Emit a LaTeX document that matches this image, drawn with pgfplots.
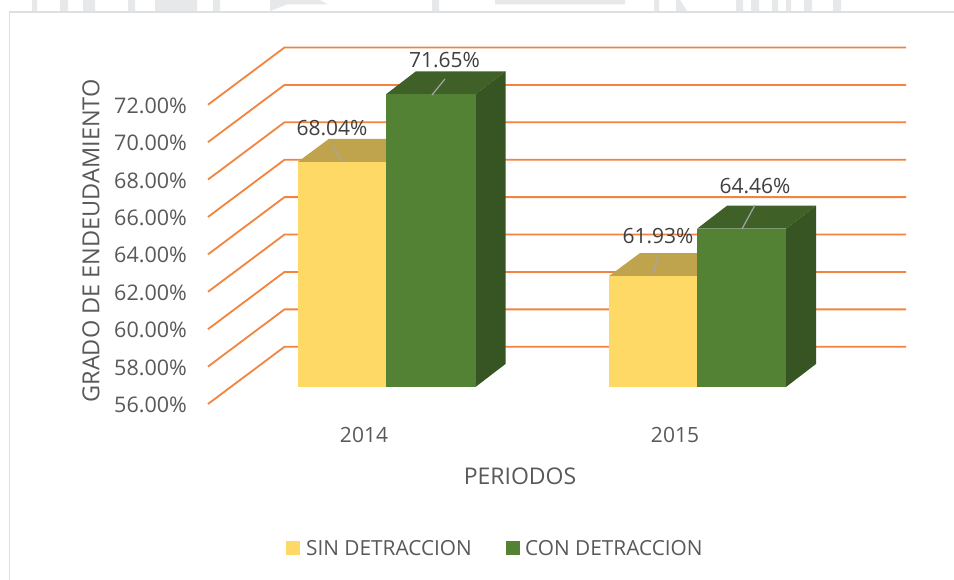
\documentclass[border=0pt]{standalone}
\usepackage{fontspec}
\setmainfont{Open Sans}
\usepackage{pgfplots}
\pgfplotsset{compat=1.18}
\definecolor{gridc}{HTML}{F2843F}
\definecolor{yfront}{HTML}{FFD966}
\definecolor{ytop}{HTML}{BFA44D}
\definecolor{gfront}{HTML}{548235}
\definecolor{gtop}{HTML}{3F6127}
\definecolor{gside}{HTML}{375522}
\definecolor{txt}{HTML}{595959}
\definecolor{lab}{HTML}{404040}
\definecolor{framec}{HTML}{DEDFE0}
\definecolor{wm}{HTML}{E7E8EA}
\begin{document}
\begin{tikzpicture}
\begin{axis}[
    scale only axis,
    width=954pt, height=580pt,
    xmin=0, xmax=954,
    ymin=46.59, ymax=77.60,
    axis lines=none,
    clip=true,
    grid line/.style={gridc, line width=1.8pt, forget plot},
    front/.style={draw=none, fill=#1, forget plot, y filter/.expression={y+0.91}},
    face/.style={draw=none, fill=#1, forget plot},
    lead/.style={draw=black!35, line width=1.2pt, forget plot},
]
% page background, keeps the bounding box at the full size
\addplot[face=white] coordinates {(0,46.59) (954,46.59) (954,77.6) (0,77.6)} -- cycle;
% watermark scraps above the frame
\addplot[face=wm] coordinates {
    (32,77.6) (32,77.01) (37,77.01) (37,77.6)
    (60,77.6) (60,77.01) (68,77.01) (68,77.6)
    (83,77.6) (83,77.01) (95,77.01) (95,77.6)
    (128,77.6) (128,77.01) (135,77.01) (135,77.6)
    (155,77.6) (155,77.01) (197,77.01) (197,77.6)
    (213,77.6) (213,77.01) (220,77.01) (220,77.6)
    (270,77.6) (270,77.01) (287,77.36) (328,77.36) (320,77.6)
    (432,77.6) (432,77.01) (439,77.01) (439,77.6)
    (495,77.6) (495,77.36) (625,77.36) (625,77.6)
    (654,77.6) (654,77.01) (659,77.01) (659,77.6)
    (676,77.6) (676,77.01) (687,77.01) (680,77.6)
    (736,77.6) (736,77.01) (743,77.01) (743,77.6)
    (751,77.6) (751,77.01) (759,77.01) (759,77.6)
    (772,77.6) (772,77.01) (778,77.01) (778,77.6)
    (786,77.6) (786,77.01) (791,77.01) (791,77.6)
    (804,77.6) (804,77.01) (812,77.01) (812,77.6)
    (833,77.6) (833,77.01) (841,77.01) (841,77.6)
} -- cycle;
% frame
\addplot[framec, line width=1.3pt, forget plot] coordinates {(9.5,46.59) (9.5,76.96) (954,76.96)};
% gridlines, front end then back wall
\addplot[grid line] coordinates {(208,56) (284.5,59.06) (906,59.06)};
\addplot[grid line] coordinates {(208,58) (284.5,61.06) (906,61.06)};
\addplot[grid line] coordinates {(208,60) (284.5,63.06) (906,63.06)};
\addplot[grid line] coordinates {(208,62) (284.5,65.06) (906,65.06)};
\addplot[grid line] coordinates {(208,64) (284.5,67.06) (906,67.06)};
\addplot[grid line] coordinates {(208,66) (284.5,69.06) (906,69.06)};
\addplot[grid line] coordinates {(208,68) (284.5,71.06) (906,71.06)};
\addplot[grid line] coordinates {(208,70) (284.5,73.06) (906,73.06)};
\addplot[grid line] coordinates {(208,72) (284.5,75.06) (906,75.06)};
% 2014
\addplot[face=ytop] coordinates {(298,68.95) (386,68.95) (417,70.18) (329,70.18)} -- cycle;
\addplot[front=yfront] coordinates {(298,56) (386,56) (386,68.04) (298,68.04)} -- cycle;
\addplot[face=gtop] coordinates {(386,72.56) (475.5,72.56) (505.5,73.79) (416,73.79)} -- cycle;
\addplot[face=gside] coordinates {(475.5,56.91) (505.5,58.14) (505.5,73.79) (475.5,72.56)} -- cycle;
\addplot[front=gfront] coordinates {(386,56) (475.5,56) (475.5,71.65) (386,71.65)} -- cycle;
% 2015
\addplot[face=ytop] coordinates {(609,62.84) (697,62.84) (728,64.07) (640,64.07)} -- cycle;
\addplot[front=yfront] coordinates {(609,56) (697,56) (697,61.93) (609,61.93)} -- cycle;
\addplot[face=gtop] coordinates {(697,65.37) (786,65.37) (816,66.60) (727,66.60)} -- cycle;
\addplot[face=gside] coordinates {(786,56.91) (816,58.14) (816,66.60) (786,65.37)} -- cycle;
\addplot[front=gfront] coordinates {(697,56) (786,56) (786,64.46) (697,64.46)} -- cycle;
% leader lines
\addplot[lead] coordinates {(343,68.94) (332,69.8)};
\addplot[lead] coordinates {(432,72.52) (445,73.38)};
\addplot[lead] coordinates {(653,62.9) (658,63.97)};
\addplot[lead] coordinates {(742,65.36) (755,66.64)};
% legend swatches
\addplot[face=yfront] coordinates {(286,47.93) (300,47.93) (300,48.67) (286,48.67)} -- cycle;
\addplot[face=gfront] coordinates {(506,47.93) (520,47.93) (520,48.67) (506,48.67)} -- cycle;
% text
\begin{scope}[every node/.style={font=\fontsize{21.5}{24}\selectfont, text=txt, inner sep=0pt}]
\node[anchor=east] at (axis cs:187,55.95) {56.00\%};
\node[anchor=east] at (axis cs:187,57.95) {58.00\%};
\node[anchor=east] at (axis cs:187,59.95) {60.00\%};
\node[anchor=east] at (axis cs:187,61.95) {62.00\%};
\node[anchor=east] at (axis cs:187,63.95) {64.00\%};
\node[anchor=east] at (axis cs:187,65.95) {66.00\%};
\node[anchor=east] at (axis cs:187,67.95) {68.00\%};
\node[anchor=east] at (axis cs:187,69.95) {70.00\%};
\node[anchor=east] at (axis cs:187,71.95) {72.00\%};
\end{scope}
\begin{scope}[every node/.style={font=\fontsize{21}{24}\selectfont, text=txt, inner sep=0pt}]
\node at (axis cs:364,54.34) {2014};
\node at (axis cs:675,54.34) {2015};
\node[font=\fontsize{23}{26}\selectfont] at (axis cs:520,52.15) {PERIODOS};
\node[rotate=90, font=\fontsize{23.5}{26}\selectfont] at (axis cs:91,64.72) {GRADO DE ENDEUDAMIENTO};
\node[anchor=west, font=\fontsize{20.8}{24}\selectfont] at (axis cs:306,48.3) {SIN DETRACCION};
\node[anchor=west, font=\fontsize{20.8}{24}\selectfont] at (axis cs:525,48.3) {CON DETRACCION};
\end{scope}
\begin{scope}[every node/.style={font=\fontsize{21}{24}\selectfont, text=lab, inner sep=0pt}]
\node at (axis cs:332,70.76) {68.04\%};
\node at (axis cs:444.5,74.4) {71.65\%};
\node at (axis cs:658,64.98) {61.93\%};
\node at (axis cs:755,67.66) {64.46\%};
\end{scope}
\end{axis}
\end{tikzpicture}
\end{document}
